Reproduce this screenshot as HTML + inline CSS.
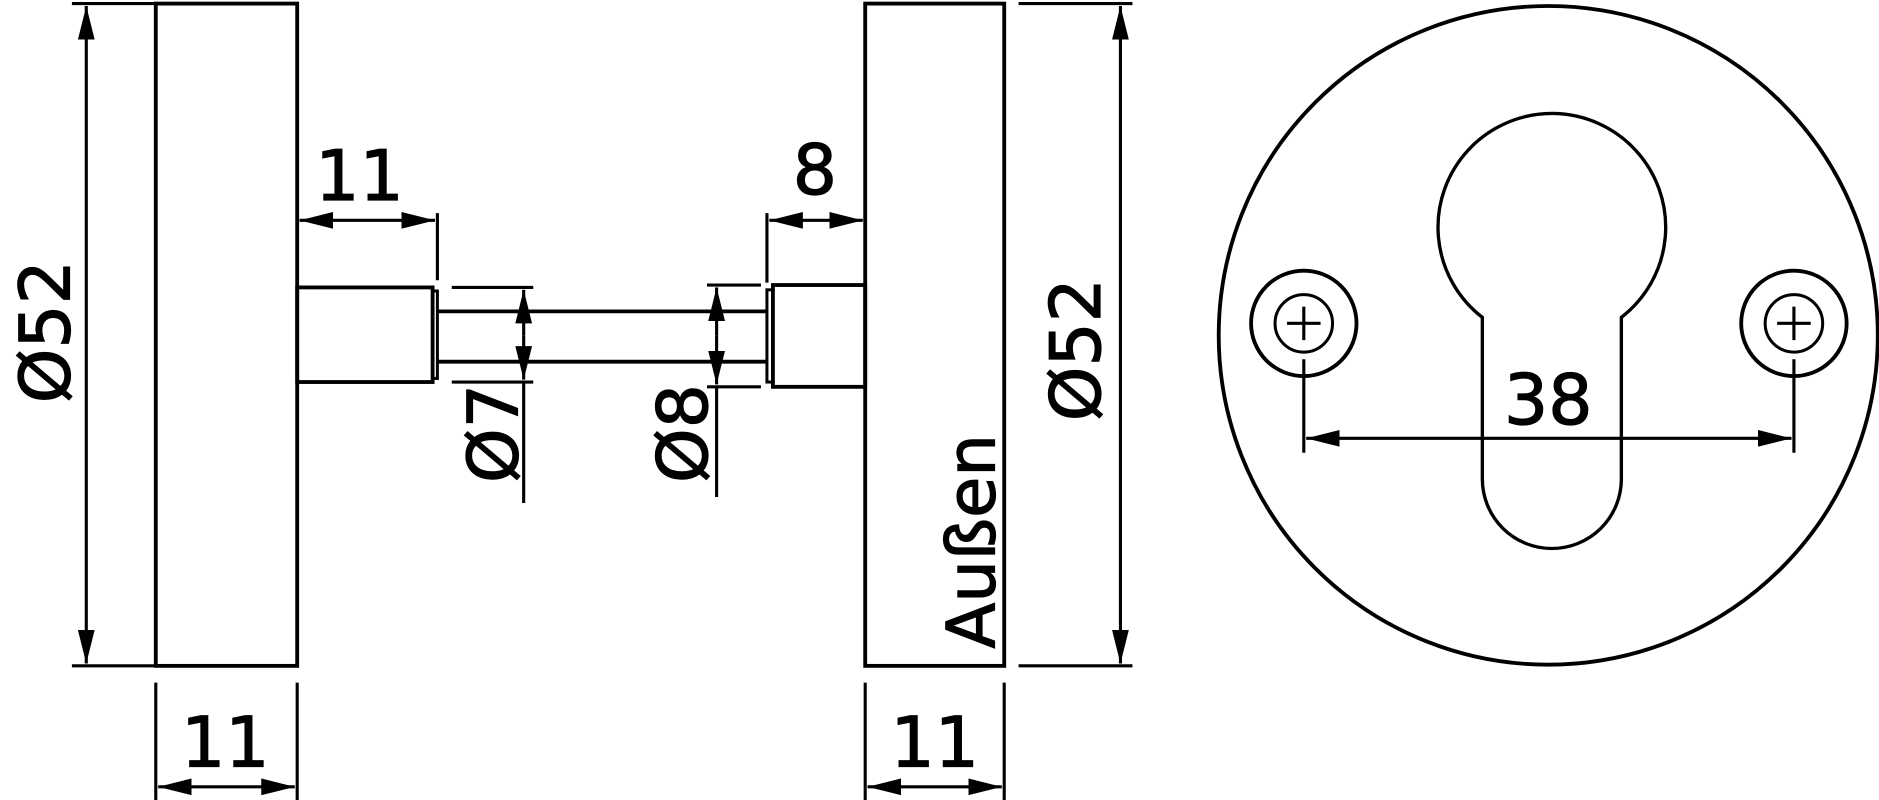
<!DOCTYPE html>
<html><head><style>html,body{margin:0;padding:0;background:#fff}svg{display:block}</style></head><body>
<svg width="1879" height="800" viewBox="0 0 1568 668" preserveAspectRatio="none" xmlns="http://www.w3.org/2000/svg">
<defs>
<marker id="a" viewBox="0 0 28 14" refX="28" refY="7" markerWidth="28" markerHeight="14" markerUnits="userSpaceOnUse" orient="auto-start-reverse"><path d="M0,0 L28,7 L0,14 z" fill="#000"/></marker>
</defs>
<g fill="none" stroke="#000" stroke-width="3.2">
<rect x="130" y="3" width="118" height="553"/>
<rect x="722" y="3" width="116" height="553"/>
<rect x="248" y="240" width="113" height="79"/>
<rect x="361" y="243" width="4" height="73" stroke-width="2.5"/>
<line x1="365" y1="260" x2="640" y2="260"/>
<line x1="365" y1="302" x2="640" y2="302"/>
<rect x="645" y="238" width="77" height="85"/>
<rect x="640" y="242" width="5" height="77" stroke-width="2.5"/>
<circle cx="1292" cy="280" r="275"/>
<path d="M1237,265 A95,95 0 1 1 1353,265 L1353,400 A58,58 0 0 1 1237,400 Z" stroke-width="2.8"/>
<circle cx="1088" cy="270" r="44"/>
<circle cx="1088" cy="270" r="24" stroke-width="2.5"/>
<circle cx="1497" cy="270" r="44"/>
<circle cx="1497" cy="270" r="24" stroke-width="2.5"/>
</g>
<g fill="none" stroke="#000" stroke-width="2.6">
<path d="M1074,270h28M1088,256v28M1483,270h28M1497,256v28"/>
<line x1="60" y1="3" x2="130" y2="3"/><line x1="60" y1="556" x2="130" y2="556"/>
<line x1="72" y1="5" x2="72" y2="554" marker-start="url(#a)" marker-end="url(#a)"/>
<line x1="850" y1="3" x2="945" y2="3"/><line x1="850" y1="556" x2="945" y2="556"/>
<line x1="935" y1="5" x2="935" y2="554" marker-start="url(#a)" marker-end="url(#a)"/>
<line x1="130" y1="570" x2="130" y2="668"/><line x1="248" y1="570" x2="248" y2="668"/>
<line x1="132" y1="657" x2="246" y2="657" marker-start="url(#a)" marker-end="url(#a)"/>
<line x1="722" y1="570" x2="722" y2="668"/><line x1="838" y1="570" x2="838" y2="668"/>
<line x1="724" y1="657" x2="836" y2="657" marker-start="url(#a)" marker-end="url(#a)"/>
<line x1="365" y1="178" x2="365" y2="234"/>
<line x1="250" y1="184" x2="363" y2="184" marker-start="url(#a)" marker-end="url(#a)"/>
<line x1="640" y1="178" x2="640" y2="236"/>
<line x1="642" y1="184" x2="720" y2="184" marker-start="url(#a)" marker-end="url(#a)"/>
<line x1="377" y1="240" x2="445" y2="240"/><line x1="377" y1="319" x2="445" y2="319"/>
<line x1="437" y1="242" x2="437" y2="280" marker-start="url(#a)"/>
<line x1="437" y1="280" x2="437" y2="317" marker-end="url(#a)"/>
<line x1="437" y1="319" x2="437" y2="420"/>
<line x1="590" y1="238" x2="635" y2="238"/><line x1="590" y1="323" x2="635" y2="323"/>
<line x1="598" y1="240" x2="598" y2="280" marker-start="url(#a)"/>
<line x1="598" y1="280" x2="598" y2="321" marker-end="url(#a)"/>
<line x1="598" y1="323" x2="598" y2="415"/>
<line x1="1088" y1="300" x2="1088" y2="378"/><line x1="1497" y1="300" x2="1497" y2="378"/>
<line x1="1090" y1="366" x2="1495" y2="366" marker-start="url(#a)" marker-end="url(#a)"/>
</g>
<g font-family="DejaVu Sans, sans-serif" font-size="58" fill="#000" stroke="#000" stroke-width="1" text-anchor="middle">
<text x="300" y="167">11</text>
<text x="680" y="162">8</text>
<text x="188" y="640">11</text>
<text x="780" y="640">11</text>
<text x="1292" y="354">38</text>
<text transform="translate(58,277) rotate(-90)">Ø52</text>
<text transform="translate(918,292) rotate(-90)">Ø52</text>
<text transform="translate(432,362) rotate(-90)">Ø7</text>
<text transform="translate(590,362) rotate(-90)">Ø8</text>
<text transform="translate(830,452) rotate(-90)" font-size="56">Außen</text>
</g>
</svg>
</body></html>
